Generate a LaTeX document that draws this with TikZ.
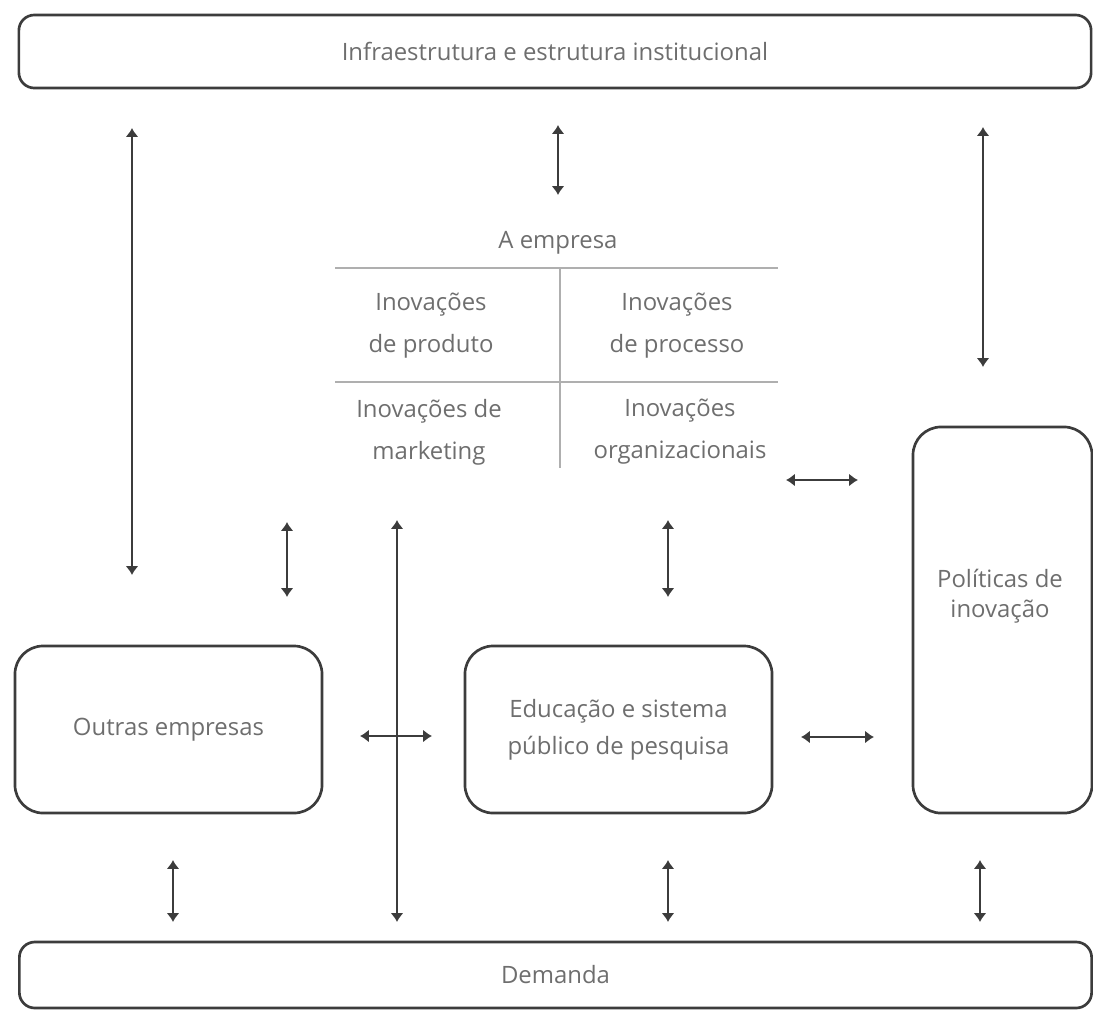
\documentclass[tikz,border=0pt]{standalone}
\usepackage{fontspec}
\setmainfont{Open Sans}
\definecolor{linegray}{RGB}{60, 60, 60}
\definecolor{textgray}{RGB}{110, 110, 110}
\definecolor{rulegray}{RGB}{175, 175, 175}
\newcommand{\diagfont}{\fontsize{17}{30}\selectfont}
\usetikzlibrary{arrows.meta, positioning}
\tikzset{
    widebox/.style={rectangle, rounded corners=11pt, draw=linegray, line width=1.9pt,
                    minimum width=26.8cm, text=textgray, font=\diagfont},
    mainbox/.style={rectangle, rounded corners=20pt, draw=linegray, line width=1.9pt,
                    align=center, text=textgray, font=\diagfont},
    celltext/.style={align=center, text=textgray, font=\diagfont},
    tablerule/.style={line width=1pt, rulegray},
    arrow/.style={{Latex[length=2.2mm, width=3.2mm]}-{Latex[length=2.2mm, width=3.2mm]},
                  line width=1.9pt, linegray},
}

\begin{document}
\begin{tikzpicture}[x=0.025cm, y=-0.025cm]
            \useasboundingbox (0,0) rectangle (1093,1009);

            \node[widebox, minimum height=1.825cm] (infra) at (555, 51.5) {Infraestrutura e estrutura institucional};
            \node[widebox, minimum height=1.65cm] (demanda) at (555.5, 975) {Demanda};
            \node[mainbox, minimum width=7.675cm, minimum height=4.175cm] (outras) at (168.5, 729.5) {Outras empresas};
            \node[mainbox, minimum width=7.675cm, minimum height=4.175cm, font=\fontsize{17}{26}\selectfont] (educ) at (618.5, 729.5) {Educação e sistema\\público de pesquisa};
            \node[mainbox, minimum width=4.475cm, minimum height=9.65cm] (politicas) at (1002.5, 620) {};
            \node[celltext, font=\fontsize{17}{21.5}\selectfont] (politicasText) at (1000, 596) {Políticas de\\inovação};

            % the firm
            \node[celltext] (empresa) at (558, 243) {A empresa};
            \node[celltext] (produto) at (431, 326) {Inovações\\de produto};
            \node[celltext] (processo) at (677, 326) {Inovações\\de processo};
            \node[celltext] (marketing) at (429, 432) {Inovações de\\marketing};
            \node[celltext] (organiz) at (680, 432) {Inovações\\organizacionais};
            \draw[tablerule] (335, 268) -- (778, 268);
            \draw[tablerule] (335, 382) -- (778, 382);
            \draw[tablerule] (560, 268) -- (560, 468);

            \coordinate (infraL) at (132, 128);
            \coordinate (outrasT) at (132, 575);
            \coordinate (infraM) at (558, 125);
            \coordinate (empresaT) at (558, 195);
            \coordinate (infraR) at (983, 127);
            \coordinate (politicasT) at (983, 367);
            \coordinate (empresaL) at (287, 522);
            \coordinate (outrasR) at (287, 597);
            \coordinate (empresaB) at (397, 520);
            \coordinate (demandaM) at (397, 922);
            \coordinate (empresaR) at (668, 520);
            \coordinate (educT) at (668, 597);
            \coordinate (empresaE) at (786, 480);
            \coordinate (politicasW) at (858, 480);
            \coordinate (outrasE) at (360, 736);
            \coordinate (educW) at (432, 736);
            \coordinate (educE) at (801, 737);
            \coordinate (politicasS) at (874, 737);
            \coordinate (outrasB) at (173, 860);
            \coordinate (demandaL) at (173, 922);
            \coordinate (educB) at (668, 860);
            \coordinate (demandaC) at (668, 922);
            \coordinate (politicasB) at (980, 860);
            \coordinate (demandaR) at (980, 922);

            \draw[arrow] (infraL) -- (outrasT);
            \draw[arrow] (infraM) -- (empresaT);
            \draw[arrow] (infraR) -- (politicasT);
            \draw[arrow] (empresaL) -- (outrasR);
            \draw[arrow] (empresaB) -- (demandaM);
            \draw[arrow] (empresaR) -- (educT);
            \draw[arrow] (empresaE) -- (politicasW);
            \draw[arrow] (outrasE) -- (educW);
            \draw[arrow] (educE) -- (politicasS);
            \draw[arrow] (outrasB) -- (demandaL);
            \draw[arrow] (educB) -- (demandaC);
            \draw[arrow] (politicasB) -- (demandaR);
        \end{tikzpicture}
\end{document}
